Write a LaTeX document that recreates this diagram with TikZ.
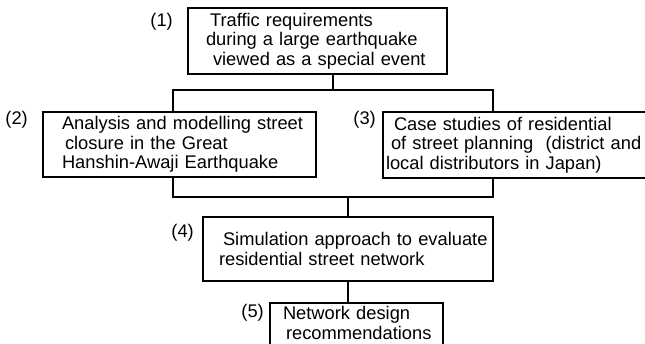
\documentclass[tikz,border=0pt]{standalone}
\usepackage{fontspec}
\setmainfont{Liberation Sans}
\begin{document}
\begin{tikzpicture}[x=1pt,y=-1pt,
  every node/.style={font=\fontsize{18.3}{19.5}\selectfont},
  box/.style={draw, line width=1.8pt, inner sep=0pt, align=left},
  num/.style={inner sep=0pt},
  wire/.style={line width=1.8pt}]
\useasboundingbox (0,0) rectangle (645,344);
\clip (0,0) rectangle (645,344);

\node[box, minimum width=259pt, minimum height=66pt, text width=223pt] (b1) at (317.5,41)
  {\hspace*{4pt}Traffic requirements\\during a large earthquake\\\hspace*{7pt}viewed as a special event};
\node[box, minimum width=273pt, minimum height=65pt, text width=235pt] (b2) at (179.5,144.5)
  {\mbox{Analysis and modelling street}\\\hspace*{3pt}closure in the Great\\Hanshin-Awaji Earthquake};
\node[box, minimum width=280pt, minimum height=66pt, text width=274pt] (b3) at (523,145)
  {\hspace*{8pt}Case studies of residential\\\hspace*{5pt}of street planning\ \ (district and\\local distributors in Japan)};
\node[box, minimum width=290pt, minimum height=64pt, text width=258pt] (b4) at (348,249)
  {\mbox{\hspace*{4pt}Simulation approach to evaluate}\\residential street network};
\node[box, anchor=north, minimum width=173pt, text width=147pt, inner ysep=4pt, text height=13pt, text depth=31pt] (b5) at (356.5,302)
  {Network design\\\mbox{\hspace*{3pt}recommendations}};

\node[num, anchor=base east] (n1) at (173,27) {(1)};
\node[num, anchor=base east] (n2) at (28,125) {(2)};
\node[num, anchor=base east] (n3) at (376,125) {(3)};
\node[num, anchor=base east] (n4) at (194,238) {(4)};
\node[num, anchor=base east] (n5) at (264,318) {(5)};

\coordinate (t1) at (333,90);
\coordinate (tl) at (173,90);
\coordinate (tr) at (493,90);
\coordinate (bl) at (173,197);
\coordinate (br) at (493,197);
\coordinate (bm) at (348,197);
\draw[wire] (b1.south -| t1) -- (t1);
\draw[wire] (b2.north -| tl) -- (tl) -- (tr) -- (b3.north -| tr);
\draw[wire] (b2.south -| bl) -- (bl) -- (br) -- (b3.south -| br);
\draw[wire] (bm) -- (b4.north -| bm);
\draw[wire] (b4.south -| bm) -- (b5.north -| bm);
\end{tikzpicture}
\end{document}
